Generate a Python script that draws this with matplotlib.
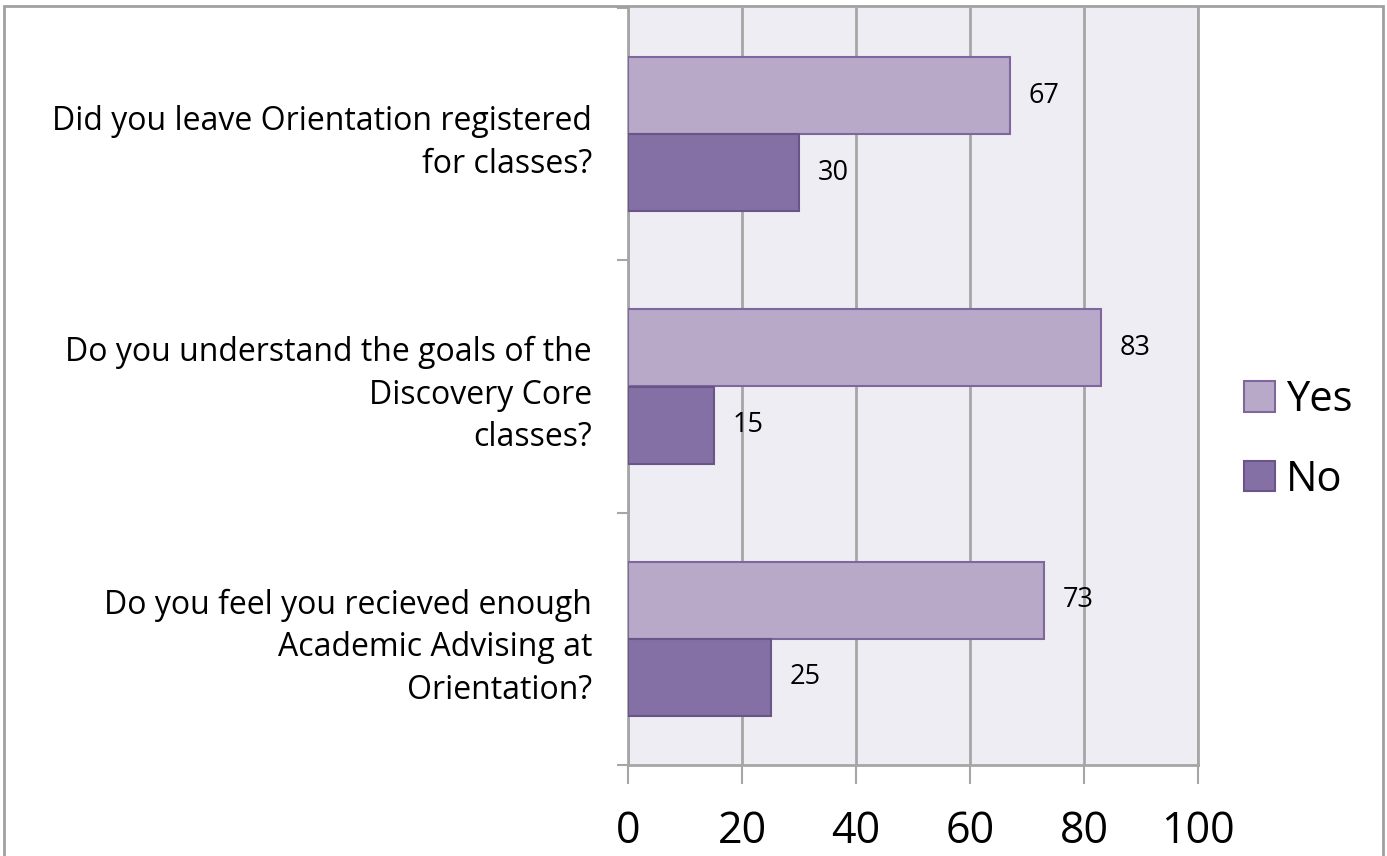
import numpy as np
import matplotlib
matplotlib.use("Agg")
import matplotlib.pyplot as plt
from matplotlib.patches import Rectangle

plt.rcParams['font.family'] = ['Open Sans', 'DejaVu Sans']

questions = [
    "Did you leave Orientation registered\nfor classes?",
    "Do you understand the goals of the\nDiscovery Core\nclasses?",
    "Do you feel you recieved enough\nAcademic Advising at\nOrientation?",
]
yes_vals = [67, 83, 73]
no_vals = [30, 15, 25]
series = ["Yes", "No"]
x_ticks = [0, 20, 40, 60, 80, 100]

yes_color = "#b8a9c9"
yes_edge = "#7d679d"
no_color = "#8470a4"
no_edge = "#6a5589"
grid_color = "#a6a6a6"

fig = plt.figure(figsize=(13.87, 8.56), dpi=100)
ax = fig.add_axes([0.4528, 0.1063, 0.4109, 0.8844])
ax.set_facecolor("#efedf4")

centers = np.arange(len(questions)) + 0.5
h = 0.305
off = 0.153
b_yes = ax.barh(centers - off, yes_vals, height=h, color=yes_color,
                edgecolor=yes_edge, linewidth=1.5, label=series[0], zorder=3)
b_no = ax.barh(centers + off, no_vals, height=h, color=no_color,
               edgecolor=no_edge, linewidth=1.5, label=series[1], zorder=3)

for bars in (b_yes, b_no):
    for b in bars:
        w = b.get_width()
        ax.text(w + 3.3, b.get_y() + b.get_height() / 2, str(int(w)),
                va="center", ha="left", fontsize=19.5, zorder=4)

ax.set_xlim(0, 100)
ax.set_ylim(len(questions), 0)
ax.set_xticks(x_ticks)
ax.set_xticklabels([str(t) for t in x_ticks], fontsize=31)
ax.xaxis.grid(True, color=grid_color, linewidth=2, zorder=1)
ax.tick_params(axis="x", length=14, width=1.5, color=grid_color, pad=18)

ax.set_yticks(np.arange(len(questions) + 1))
ax.set_yticklabels([])
ax.tick_params(axis="y", which="major", length=8, width=1.5, color=grid_color)
ax.set_yticks(centers, minor=True)
ax.set_yticklabels(questions, minor=True, fontsize=23, linespacing=1.38,
                   ha="right")
ax.tick_params(axis="y", which="minor", length=0, pad=26)

for s in ["left", "bottom", "right"]:
    ax.spines[s].set_color(grid_color)
    ax.spines[s].set_linewidth(2)
ax.spines["top"].set_visible(False)

leg = fig.legend(handles=[b_yes, b_no], labels=series, loc="center left",
                 bbox_to_anchor=(0.87, 0.486), frameon=False, fontsize=30,
                 handlelength=0.75, handleheight=0.75, handletextpad=0.25,
                 labelspacing=0.9)

# outer chart border
fig.patches.append(Rectangle((0.003, -0.05), 0.994, 1.043, transform=fig.transFigure,
                             fill=False, edgecolor="#a0a0a0", linewidth=2))

fig.savefig("out.png", dpi=100, facecolor="white")
